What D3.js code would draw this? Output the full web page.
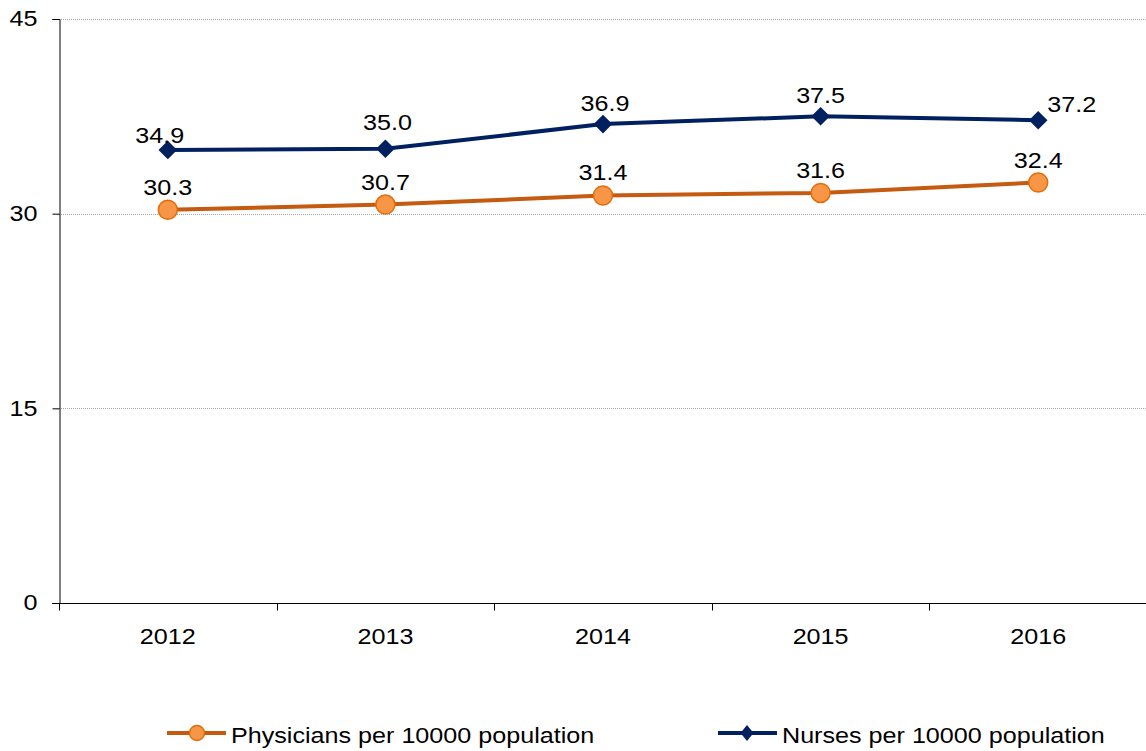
<!DOCTYPE html>
<html lang="en">
<head>
<meta charset="UTF-8">
<title>Physicians and Nurses per 10000 population</title>
<script src="https://d3js.org/d3.v7.min.js"></script>
<style>
  body { margin: 0; background: #fff; }
  text { font-family: "Liberation Sans", Arial, sans-serif; fill: #000; }
</style>
</head>
<body>
<svg width="1146" height="751"></svg>
<script>
// data
const years = ["2012", "2013", "2014", "2015", "2016"];
const physicians = [30.3, 30.7, 31.4, 31.6, 32.4];
const nurses = [34.9, 35.0, 36.9, 37.5, 37.2];
const yTicks = [0, 15, 30, 45];
const seriesNames = ["Physicians per 10000 population", "Nurses per 10000 population"];

const width = 1146, height = 751;
const margin = {top: 19, right: 0, bottom: 148, left: 59};
const fontSize = 21.5, stretch = 1.17; // the text in the original is a bit wide

const svg = d3.select("svg");

// places a horizontally stretched label
function label(parent, x, y, txt, anchor) {
    return parent.append("text")
        .attr("transform", `translate(${x},${y}) scale(${stretch},1)`)
        .attr("text-anchor", anchor || "middle")
        .attr("font-size", fontSize)
        .text(txt);
}

const x = d3.scaleBand()
    .domain(years)
    .range([margin.left, width - margin.right + 1]);

const y = d3.scaleLinear()
    .domain([0, 45])
    .range([height - margin.bottom, margin.top]);

// grid lines
svg.append("g")
    .selectAll("line")
    .data(yTicks.filter(d => d > 0))
    .join("line")
    .attr("x1", margin.left)
    .attr("x2", width)
    .attr("y1", d => Math.round(y(d)) + 0.5)
    .attr("y2", d => Math.round(y(d)) + 0.5)
    .attr("stroke", "#a6a6a6")
    .attr("stroke-dasharray", "1,1");

// y axis
const yAxis = svg.append("g")
    .attr("transform", `translate(${margin.left + 0.5},0)`)
    .call(d3.axisLeft(y).tickValues(yTicks).tickSize(7).tickPadding(15));
yAxis.selectAll("line, path").attr("stroke", "#000");
yAxis.selectAll("text")
    .attr("font-size", fontSize)
    .attr("font-family", "Liberation Sans, Arial, sans-serif")
    .attr("transform", function () { return `translate(${d3.select(this).attr("x")},0) scale(${stretch},1)`; })
    .attr("x", 0);

// x axis: ticks sit on category boundaries
const xAxisG = svg.append("g")
    .attr("transform", `translate(0,${Math.round(y(0)) + 0.5})`);
xAxisG.append("line")
    .attr("x1", margin.left - 7).attr("x2", width)
    .attr("stroke", "#000");
const bounds = years.map(d => x(d)).concat([x(years[years.length - 1]) + x.bandwidth()]);
xAxisG.selectAll(".tk")
    .data(bounds)
    .join("line")
    .attr("x1", d => Math.round(d) + 0.5)
    .attr("x2", d => Math.round(d) + 0.5)
    .attr("y1", 0).attr("y2", 7)
    .attr("stroke", "#000");
years.forEach(d => label(xAxisG, x(d) + x.bandwidth() / 2, 40, d));

const cx = d => x(d) + x.bandwidth() / 2;
const line = d3.line().x(d => cx(d.year)).y(d => y(d.v));

const physData = years.map((yr, i) => ({year: yr, v: physicians[i]}));
const nurseData = years.map((yr, i) => ({year: yr, v: nurses[i]}));

const orangeLine = "#c55a11", orangeFill = "#f79646", orangeStroke = "#e46c0a";
const navy = "#002060";

// physicians
svg.append("path")
    .datum(physData)
    .attr("fill", "none")
    .attr("stroke", orangeLine)
    .attr("stroke-width", 4)
    .attr("d", line);
svg.selectAll(".pdot")
    .data(physData)
    .join("circle")
    .attr("cx", d => cx(d.year))
    .attr("cy", d => y(d.v))
    .attr("r", 9.5)
    .attr("fill", orangeFill)
    .attr("stroke", orangeStroke)
    .attr("stroke-width", 1.5);
physData.forEach(d => label(svg, cx(d.year), y(d.v) - 15, d.v.toFixed(1)));

// nurses
svg.append("path")
    .datum(nurseData)
    .attr("fill", "none")
    .attr("stroke", navy)
    .attr("stroke-width", 4)
    .attr("d", line);
const diamond = d3.symbol().type(d3.symbolDiamond2).size(220);
svg.selectAll(".ndot")
    .data(nurseData)
    .join("path")
    .attr("transform", d => `translate(${cx(d.year)},${y(d.v)})`)
    .attr("d", diamond)
    .attr("fill", navy);
// label nudges as placed in the original
const nurseNudge = [[-8, -7, "middle"], [2, -19, "middle"], [2, -13, "middle"], [0, -13, "middle"], [9, -8, "start"]];
nurseData.forEach((d, i) => {
    const [dx, dy, anchor] = nurseNudge[i];
    label(svg, cx(d.year) + dx, y(d.v) + dy, d.v.toFixed(1), anchor);
});

// legend
const legY = 733;
const leg1 = svg.append("g").attr("transform", `translate(167,${legY})`);
leg1.append("line").attr("x1", 0).attr("x2", 59).attr("stroke", orangeLine).attr("stroke-width", 4);
leg1.append("circle").attr("cx", 30).attr("r", 7.5).attr("fill", orangeFill).attr("stroke", orangeStroke).attr("stroke-width", 1.5);
label(leg1, 64, 10, seriesNames[0], "start");

const leg2 = svg.append("g").attr("transform", `translate(718,${legY})`);
leg2.append("line").attr("x1", 0).attr("x2", 59).attr("stroke", navy).attr("stroke-width", 4);
leg2.append("path").attr("d", "M29,-8L35.5,0L29,8L22.5,0Z").attr("fill", navy);
label(leg2, 64, 10, seriesNames[1], "start");
</script>
</body>
</html>
